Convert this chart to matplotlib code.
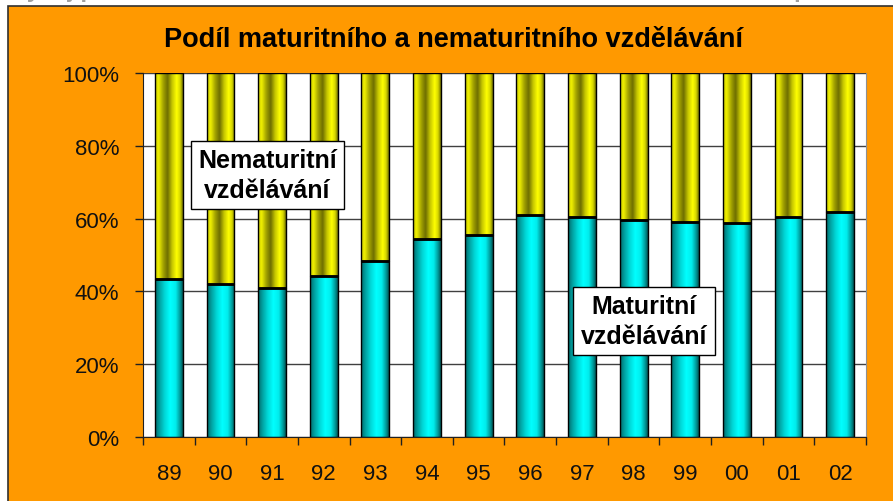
#!/usr/bin/env python
"""
Stacked 100 % bars: share of maturitni / nematuritni education by year.
"""

import numpy as np
import matplotlib
import matplotlib.pyplot as plt
from matplotlib.colors import LinearSegmentedColormap
from matplotlib.patches import Rectangle
from matplotlib.ticker import FixedLocator, PercentFormatter

matplotlib.use("Agg")

YEARS = ["89", "90", "91", "92", "93", "94", "95", "96", "97", "98", "99", "00", "01", "02"]
MATURITNI = [43.4, 42.0, 40.8, 44.1, 48.4, 54.4, 55.5, 61.0, 60.5, 59.7, 59.0, 58.8, 60.5, 61.7]
NEMATURITNI = [100 - v for v in MATURITNI]

TITLE = "Podíl maturitního a nematuritního vzdělávání"
TOP_TEXT = "Vývoj podílu maturitního a nematuritního studia v denní formě studia po základní škole"
LABEL_NEMAT = "Nematuritní\nvzdělávání"
LABEL_MAT = "Maturitní\nvzdělávání"

ORANGE = "#FF9900"
NARROW = ["Liberation Sans Narrow", "Liberation Sans", "DejaVu Sans"]

# horizontal "cylinder" shading of the bars
cyan_cmap = LinearSegmentedColormap.from_list("cyan", [
    (0.0, "#006a6a"), (0.15, "#00a0a0"), (0.35, "#00d8d8"), (0.55, "#00ffff"),
    (0.75, "#00ecec"), (0.9, "#009c9c"), (1.0, "#005858")])
yellow_cmap = LinearSegmentedColormap.from_list("yellow", [
    (0.0, "#c8c800"), (0.12, "#f0f000"), (0.3, "#a0a000"), (0.45, "#6e6e00"),
    (0.62, "#c8c800"), (0.78, "#ffff00"), (0.9, "#d8d800"), (1.0, "#7a7a00")])
gradient = np.linspace(0, 1, 64).reshape(1, -1)


def shade(ax, patches, cmap):
    for p in patches:
        x0, y0 = p.get_x(), p.get_y()
        im = ax.imshow(gradient, cmap=cmap, aspect="auto", interpolation="bilinear",
                       extent=(x0, x0 + p.get_width(), y0, y0 + p.get_height()),
                       zorder=2)
        im.set_clip_path(p)


fig = plt.figure(figsize=(8.93, 5.02), dpi=100, facecolor="white")

# orange chart area with dark frame (top and left visible)
fig.patches.append(Rectangle((8 / 893, -0.1), 1.1, (495 / 502) + 0.1,
                             transform=fig.transFigure, facecolor=ORANGE,
                             edgecolor="#303030", linewidth=1.2, zorder=-5))
# title of the slide above, cut off by the picture's top edge
fig.text(0.56, 1.0 + 0.019, TOP_TEXT, ha="center", va="center", fontsize=17,
         fontweight="bold", color="#a0a0a0", family=NARROW, zorder=-6)

ax = fig.add_axes([143 / 893, 64 / 502, 723 / 893, 364 / 502])
ax.set_facecolor("white")

x = np.arange(len(YEARS))
width = 0.54
bars_mat = ax.bar(x, MATURITNI, width, color="none", edgecolor="black", linewidth=1, zorder=3)
bars_nem = ax.bar(x, NEMATURITNI, width, bottom=MATURITNI, color="none",
                  edgecolor="black", linewidth=1, zorder=3)
shade(ax, bars_mat, cyan_cmap)
shade(ax, bars_nem, yellow_cmap)
# heavier line where the two segments meet
ax.hlines(MATURITNI, x - width / 2, x + width / 2, colors="black", linewidth=2, zorder=4)

ax.set_xlim(-0.5, len(YEARS) - 0.5)
ax.set_ylim(0, 100)
ax.yaxis.set_major_locator(FixedLocator([0, 20, 40, 60, 80, 100]))
ax.yaxis.set_major_formatter(PercentFormatter(decimals=0))
ax.grid(axis="y", color="#404040", linewidth=1, zorder=1)
ax.set_axisbelow(True)

ax.set_xticks(np.arange(len(YEARS) + 1) - 0.5)
ax.set_xticklabels([])
ax.set_xticks(x, minor=True)
ax.set_xticklabels(YEARS, minor=True)
ax.tick_params(axis="x", which="major", direction="out", length=6, width=1, color="#202020")
ax.tick_params(axis="x", which="minor", length=0, pad=19, labelsize=16)
ax.tick_params(axis="y", direction="out", length=6, width=1, color="#202020", pad=11, labelsize=16)
for lab in ax.get_xticklabels(minor=True) + ax.get_yticklabels():
    lab.set_family(NARROW)
    lab.set_color("#111111")

for side in ["left", "bottom"]:
    ax.spines[side].set_color("#202020")
for side in ["top", "right"]:
    ax.spines[side].set_color("#909090")
ax.spines["top"].set_visible(False)

fig.text(454 / 893, 1 - 40 / 502, TITLE, ha="center", va="center", fontsize=19.5,
         fontweight="bold", color="black", family=NARROW)

box = dict(boxstyle="square,pad=0.3", facecolor="white", edgecolor="black", linewidth=1)
ax.text(1.91, 72.0, LABEL_NEMAT, ha="center", va="center", fontsize=18, fontweight="bold",
        family=["Liberation Sans", "DejaVu Sans"], linespacing=1.3, bbox=box, zorder=6)
ax.text(9.2, 31.9, LABEL_MAT, ha="center", va="center", fontsize=18, fontweight="bold",
        family=["Liberation Sans", "DejaVu Sans"], linespacing=1.3, bbox=box, zorder=6)

fig.savefig("out.png", dpi=100, facecolor=fig.get_facecolor())
